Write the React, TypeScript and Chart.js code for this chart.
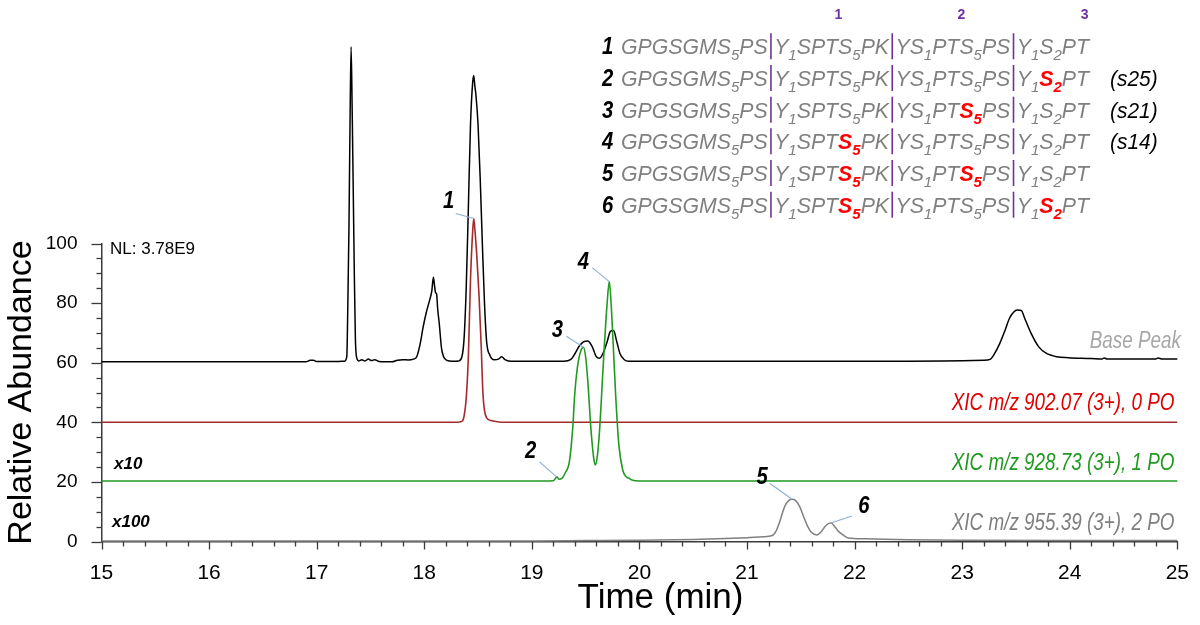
import React, { useEffect, useRef } from "react";
import { Chart, registerables } from "chart.js";

Chart.register(...registerables);

const FONT = "'Liberation Sans', Arial, Helvetica, sans-serif";

// ---------- DATA ----------
// [time (min), plotted relative abundance incl. offset]
const basePeak: [number, number][] = [
  [15.0, 60.3], [16.9, 60.3], [16.94, 60.8], [16.97, 60.8], [17.0, 60.4], [17.1, 60.4], [17.2, 60.4],
  [17.26, 60.5], [17.28, 62], [17.29, 80], [17.3, 105], [17.31, 140], [17.32, 166], [17.33, 145],
  [17.34, 118], [17.35, 90], [17.36, 68], [17.37, 62], [17.39, 60.6], [17.42, 61], [17.45, 60.6],
  [17.48, 61.2], [17.51, 60.7], [17.54, 61], [17.58, 60.4], [17.63, 60.3], [17.7, 60.3], [17.75, 60.8],
  [17.8, 61], [17.85, 60.9], [17.9, 61.2], [17.93, 62], [17.96, 66], [17.99, 72], [18.02, 77],
  [18.05, 81], [18.07, 84], [18.085, 88.7], [18.095, 86], [18.105, 83.5], [18.115, 83], [18.125, 78],
  [18.14, 73], [18.16, 65], [18.18, 62], [18.21, 60.8], [18.26, 60.5], [18.32, 60.6], [18.35, 62],
  [18.37, 68], [18.39, 85], [18.41, 112], [18.43, 140], [18.45, 154], [18.46, 156.4], [18.47, 153],
  [18.48, 150], [18.5, 140], [18.52, 122], [18.54, 100], [18.56, 80], [18.58, 67], [18.61, 62.5],
  [18.65, 61], [18.69, 61.2], [18.72, 62], [18.75, 61], [18.8, 60.5], [19.0, 60.5], [19.3, 60.5],
  [19.36, 61], [19.4, 63], [19.44, 65.5], [19.48, 67], [19.52, 67.3], [19.56, 65.5], [19.6, 62],
  [19.63, 61.5], [19.66, 63], [19.7, 67], [19.73, 70.5], [19.76, 70.8], [19.79, 67], [19.82, 63],
  [19.86, 61], [19.9, 60.5], [20.5, 60.5], [21.5, 60.5], [22.5, 60.5], [23.2, 60.8], [23.26, 61.1],
  [23.3, 63], [23.35, 66.5], [23.4, 71], [23.44, 74.9], [23.48, 77], [23.51, 77.7], [23.55, 77.5],
  [23.58, 75], [23.64, 69.9], [23.71, 65.4], [23.78, 63.2], [23.88, 62], [23.99, 61.7], [24.2, 61.4],
  [24.3, 61.2], [24.32, 61.6], [24.35, 61.2], [24.8, 61.2], [24.82, 61.6], [24.86, 61.2], [25.0, 61.2],
];

const xic0PO: [number, number][] = [
  [15.0, 40], [18.3, 40], [18.35, 40.3], [18.37, 42], [18.39, 48], [18.41, 62], [18.43, 88],
  [18.45, 104], [18.46, 108.4], [18.47, 105], [18.49, 95], [18.51, 82], [18.53, 65], [18.545, 50],
  [18.56, 44], [18.58, 41.5], [18.62, 40.6], [18.68, 40.2], [18.75, 40], [25.0, 40],
];

const xic1PO: [number, number][] = [
  [15.0, 20.3], [19.0, 20.3], [19.2, 20.4], [19.22, 21.2], [19.235, 21.7], [19.25, 20.9], [19.28, 21.2],
  [19.31, 23], [19.35, 27], [19.38, 38], [19.4, 50], [19.43, 60], [19.46, 64.5], [19.48, 65.2],
  [19.5, 62], [19.52, 54], [19.55, 37.5], [19.575, 28], [19.59, 25.7], [19.61, 29], [19.63, 37.5],
  [19.665, 60], [19.7, 80], [19.72, 87.2], [19.74, 78], [19.75, 71], [19.78, 48.6], [19.81, 32],
  [19.845, 24], [19.875, 21.8], [19.9, 21.3], [19.93, 20.6], [20.0, 20.3], [25.0, 20.3],
];

const xic2PO: [number, number][] = [
  [15.0, 0.2], [19.0, 0.2], [19.5, 0.3], [20.0, 0.4], [20.5, 0.7], [20.8, 1.0], [21.0, 1.3],
  [21.15, 1.6], [21.23, 1.9], [21.27, 3.5], [21.3, 6.2], [21.35, 11.7], [21.39, 13.8], [21.42, 14.2],
  [21.45, 13.8], [21.49, 11.7], [21.53, 8], [21.565, 5], [21.6, 3], [21.65, 2.2], [21.69, 3.3],
  [21.725, 5], [21.76, 6.1], [21.78, 6.2], [21.82, 4.8], [21.85, 3.4], [21.9, 2], [21.94, 1.2],
  [22.1, 0.9], [22.5, 0.6], [23.0, 0.4], [24.0, 0.3], [25.0, 0.3],
];

const traceNames = [
  "Base Peak",
  "XIC m/z 902.07 (3+), 0 PO",
  "XIC m/z 928.73 (3+), 1 PO",
  "XIC m/z 955.39 (3+), 2 PO",
];
const scaleNotes = ["NL: 3.78E9", "x10", "x100"];
const xTitle = "Time (min)";
const yTitle = "Relative Abundance";

const peakIds = ["1", "2", "3", "4", "5", "6"];
const peakTimes = [18.46, 19.23, 19.48, 19.72, 21.42, 21.78];
const peakValues = [108.4, 21.7, 65.2, 87.2, 14.2, 6.2];

const X_MIN = 15;
const X_MAX = 25;
const X_MAJOR = 1;
const X_MINOR = 0.2;
const Y_MIN = 0;
const Y_MAX = 100;
const Y_MAJOR = 20;
const Y_MINOR = 5;

// peptide sequence table
const seqBlocks = [
  [{ t: "GPGSGMS", s: "5" }, { t: "PS" }],
  [{ t: "Y", s: "1" }, { t: "SPT" }, { t: "S", s: "5", site: 1 }, { t: "PK" }],
  [{ t: "YS", s: "1" }, { t: "PT" }, { t: "S", s: "5", site: 2 }, { t: "PS" }],
  [{ t: "Y", s: "1" }, { t: "S", s: "2", site: 3 }, { t: "PT" }],
];
const peptideIds = ["1", "2", "3", "4", "5", "6"];
const peptideSites = [[], [3], [2], [1], [1, 2], [1, 3]];
const siteNotes = ["", "(s25)", "(s21)", "(s14)", "", ""];
const repeatHeaders = ["1", "2", "3"];

// ---------- STYLE ----------
const AXIS = "#3a3a3a";
const LEADER = "#8fb0d8";
const PURPLE = "#7030a0";
const SEQ_GRAY = "#7f7f7f";
const traceColors = ["#000000", "#a32b2b", "#229a22", "#808080"];
const textColors = ["#a6a6a6", "#e00000", "#1f9a1f", "#7f7f7f"];

function drawText(
  ctx: CanvasRenderingContext2D,
  text: string,
  x: number,
  y: number,
  font: string,
  color: string,
  align: CanvasTextAlign,
  sx = 1,
  baseline: CanvasTextBaseline = "middle"
) {
  ctx.save();
  ctx.translate(x, y);
  ctx.scale(sx, 1);
  ctx.font = font;
  ctx.fillStyle = color;
  ctx.textAlign = align;
  ctx.textBaseline = baseline;
  ctx.fillText(text, 0, 0);
  ctx.restore();
}

type Run = { text?: string; red?: boolean; sub?: boolean; bar?: boolean };

function buildRuns(sites: number[]): Run[] {
  const runs: Run[] = [];
  seqBlocks.forEach((block, bi) => {
    if (bi > 0) runs.push({ bar: true });
    block.forEach((tok: any) => {
      const red = tok.site !== undefined && sites.includes(tok.site);
      runs.push({ text: tok.t, red });
      if (tok.s) runs.push({ text: tok.s, red, sub: true });
    });
  });
  return runs;
}

const MAIN_SIZE = 22;
const SUB_SIZE = 15.5;
const runFont = (r: Run) =>
  `italic ${r.red ? "bold " : ""}${r.sub ? SUB_SIZE : MAIN_SIZE}px ${FONT}`;
const BAR_ADV = MAIN_SIZE * 0.3;

function runsWidth(ctx: CanvasRenderingContext2D, runs: Run[]) {
  let w = 0;
  for (const r of runs) {
    if (r.bar) {
      w += BAR_ADV;
      continue;
    }
    ctx.font = runFont(r);
    w += ctx.measureText(r.text!).width;
  }
  return w;
}

const overlayPlugin = {
  id: "overlay",
  afterDraw(chart: any) {
    const ctx: CanvasRenderingContext2D = chart.ctx;
    const xs = chart.scales.x;
    const ys = chart.scales.y;
    const area = chart.chartArea;
    ctx.save();

    // tick marks
    ctx.strokeStyle = AXIS;
    ctx.lineWidth = 1.3;
    const nx = Math.round((X_MAX - X_MIN) / X_MINOR);
    for (let i = 0; i <= nx; i++) {
      const v = X_MIN + i * X_MINOR;
      const major = i % Math.round(X_MAJOR / X_MINOR) === 0;
      const px = Math.round(xs.getPixelForValue(v)) + 0.5;
      ctx.beginPath();
      ctx.moveTo(px, area.bottom);
      ctx.lineTo(px, area.bottom + (major ? 8 : 5));
      ctx.stroke();
    }
    const ny = Math.round((Y_MAX - Y_MIN) / Y_MINOR);
    for (let i = 0; i <= ny; i++) {
      const v = Y_MIN + i * Y_MINOR;
      const major = i % Math.round(Y_MAJOR / Y_MINOR) === 0;
      const py = Math.round(ys.getPixelForValue(v)) + 0.5;
      ctx.beginPath();
      ctx.moveTo(area.left - (major ? 10 : 5), py);
      ctx.lineTo(area.left, py);
      ctx.stroke();
    }

    // x axis title
    drawText(ctx, xTitle, 660.5, 598, `35px ${FONT}`, "#000", "center");

    // notes on the left
    drawText(ctx, scaleNotes[0], 110, 249, `17px ${FONT}`, "#000", "left");
    drawText(ctx, scaleNotes[1], 114, 464, `italic bold 17px ${FONT}`, "#000", "left");
    drawText(ctx, scaleNotes[2], 112, 522.5, `italic bold 17px ${FONT}`, "#000", "left");

    // trace names (right aligned)
    const nameRight = [1181, 1174.5, 1174.5, 1174.5];
    const nameY = [342, 403.5, 463.5, 523.5];
    traceNames.forEach((n, i) => {
      drawText(ctx, n, nameRight[i], nameY[i], `italic 23px ${FONT}`, textColors[i], "right", 0.82);
    });

    // peak labels with leader lines
    const leader = [
      [-18, -5, -25, -17],
      [-17, -15, -26, -25],
      [-17, -11, -26, -17],
      [-17, -14, -26, -19],
      [-22.6, -16, -30, -22],
      [21, -7, 33, -16],
    ];
    ctx.strokeStyle = LEADER;
    ctx.lineWidth = 1.2;
    peakIds.forEach((id, i) => {
      const px = xs.getPixelForValue(peakTimes[i]);
      const py = ys.getPixelForValue(peakValues[i]);
      const [dx, dy, lx, ly] = leader[i];
      ctx.beginPath();
      ctx.moveTo(px, py);
      ctx.lineTo(px + dx, py + dy);
      ctx.stroke();
      drawText(ctx, id, px + lx, py + ly, `italic bold 23px ${FONT}`, "#000", "center", 0.88);
    });

    // sequence table
    const x0 = 621;
    const target = 468;
    const baselines = [54.3, 86, 117.7, 149.3, 181, 212.7];
    const refRuns = buildRuns([]);
    const sx = target / runsWidth(ctx, refRuns);
    peptideIds.forEach((pid, row) => {
      const by = baselines[row];
      drawText(ctx, pid, 607.6, by, `italic bold 23px ${FONT}`, "#000", "center", 0.88, "alphabetic");
      const runs = buildRuns(peptideSites[row]);
      let x = 0;
      ctx.save();
      ctx.translate(x0, by);
      ctx.scale(sx, 1);
      ctx.textBaseline = "alphabetic";
      ctx.textAlign = "left";
      for (const r of runs) {
        if (r.bar) {
          ctx.strokeStyle = PURPLE;
          ctx.lineWidth = 1.6 / sx;
          ctx.beginPath();
          ctx.moveTo(x + BAR_ADV / 2, -21);
          ctx.lineTo(x + BAR_ADV / 2, 5);
          ctx.stroke();
          x += BAR_ADV;
          continue;
        }
        ctx.font = runFont(r);
        ctx.fillStyle = r.red ? "#ff0000" : SEQ_GRAY;
        ctx.fillText(r.text!, x, r.sub ? 6 : 0);
        x += ctx.measureText(r.text!).width;
      }
      ctx.restore();
      if (siteNotes[row]) {
        drawText(ctx, siteNotes[row], 1110, by, `italic 22px ${FONT}`, "#000", "left", 0.95, "alphabetic");
      }
    });
    const headerX = [838.3, 961.5, 1084.7];
    repeatHeaders.forEach((h, i) => {
      drawText(ctx, h, headerX[i], 15, `bold 14px ${FONT}`, PURPLE, "center");
    });

    ctx.restore();
  },
};

export default function App() {
  const ref = useRef<HTMLCanvasElement>(null);
  useEffect(() => {
    const toXY = (arr: [number, number][]) => arr.map(([x, y]) => ({ x, y }));
    const mk = (label: string, data: [number, number][], color: string, width: number) => ({
      label,
      data: toXY(data),
      borderColor: color,
      backgroundColor: color,
      borderWidth: width,
      pointRadius: 0,
      fill: false,
      clip: false as const,
      cubicInterpolationMode: "monotone" as const,
    });
    const chart = new Chart(ref.current!, {
      type: "line",
      data: {
        datasets: [
          mk(traceNames[2], xic1PO, traceColors[2], 1.6),
          mk(traceNames[1], xic0PO, traceColors[1], 1.6),
          mk(traceNames[0], basePeak, traceColors[0], 1.5),
          mk(traceNames[3], xic2PO, traceColors[3], 1.5),
        ],
      },
      options: {
        responsive: false,
        animation: false,
        devicePixelRatio: 1,
        layout: { padding: { top: 243.5, right: 22, bottom: 0, left: 0 } },
        plugins: {
          legend: { display: false },
          tooltip: { enabled: false },
          title: { display: false },
        },
        scales: {
          x: {
            type: "linear",
            min: X_MIN,
            max: X_MAX,
            grid: { display: false },
            border: { display: true, color: AXIS, width: 1.5 },
            ticks: {
              stepSize: X_MAJOR,
              autoSkip: false,
              maxRotation: 0,
              padding: 11,
              color: "#000",
              font: { size: 21, family: FONT },
            },
            title: { display: false },
            afterFit: (s: any) => {
              s.height = 83.5;
            },
          },
          y: {
            type: "linear",
            min: Y_MIN,
            max: Y_MAX,
            grid: { display: false },
            border: { display: true, color: AXIS, width: 1.5 },
            ticks: {
              stepSize: Y_MAJOR,
              autoSkip: false,
              padding: 16,
              color: "#000",
              font: { size: 19, family: FONT },
            },
            title: {
              display: true,
              text: yTitle,
              color: "#000",
              font: { size: 34, family: FONT },
              padding: { top: 1, bottom: 0 },
            },
            afterFit: (s: any) => {
              s.width = 101.5;
            },
          },
        },
      },
      plugins: [overlayPlugin],
    } as any);
    return () => chart.destroy();
  }, []);
  return (
    <div style={{ position: "fixed", left: 0, top: 0, width: 1200, height: 625, background: "#fff" }}>
      <canvas ref={ref} width={1200} height={625} style={{ display: "block", width: 1200, height: 625 }} />
    </div>
  );
}
